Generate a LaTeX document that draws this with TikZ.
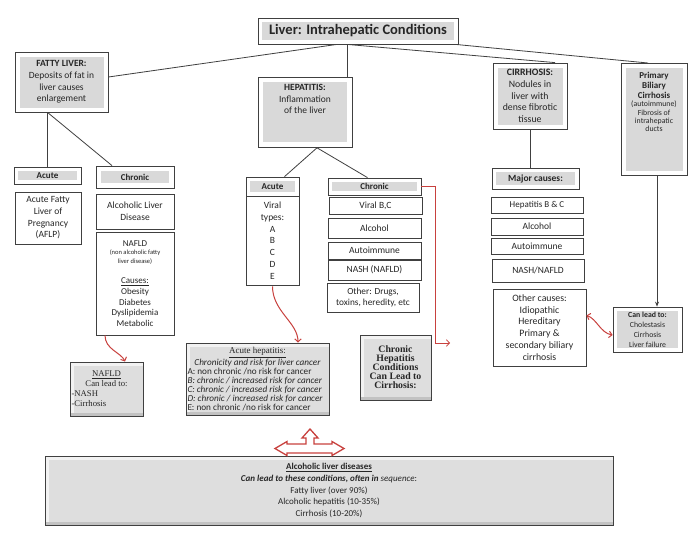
\documentclass[tikz,border=0pt]{standalone}
\usepackage{fontspec}
\setmainfont{Carlito}
\newfontfamily\tnr{Liberation Serif}
\usetikzlibrary{arrows.meta,shadows}
\definecolor{bord}{HTML}{404040}
\definecolor{ing}{HTML}{D9D9D9}
\definecolor{txt}{HTML}{262626}
\definecolor{arred}{HTML}{C8413E}
\definecolor{sfill}{HTML}{DEDEDE}
\newcommand\fsz[2]{\fontsize{#1}{#2}\selectfont}
\tikzset{
  box/.style={draw=bord, line width=0.8pt, fill=white, align=center, inner sep=0pt},
  gbox/.style={box, path picture={\fill[ing] ([shift={(#1,-#1)}]path picture bounding box.north west) rectangle ([shift={(-#1,#1)}]path picture bounding box.south east);}},
  gbox/.default=4pt,
  sbox/.style={draw=bord, line width=1pt, fill=sfill, align=center, inner sep=0pt,
    drop shadow={shadow xshift=1.3pt, shadow yshift=-1.3pt, opacity=0.35},
    path picture={
      \fill[black!5] ([shift={(0.5pt,-0.5pt)}]path picture bounding box.north west) rectangle ([shift={(-0.5pt,-3.5pt)}]path picture bounding box.north east);
      \fill[black!5] ([shift={(0.5pt,-0.5pt)}]path picture bounding box.north west) rectangle ([shift={(3.5pt,0.5pt)}]path picture bounding box.south west);
      \fill[black!24] ([shift={(0.5pt,3.5pt)}]path picture bounding box.south west) rectangle ([shift={(-0.5pt,0.5pt)}]path picture bounding box.south east);
    }},
  link/.style={draw=bord, line width=0.8pt},
  redarrow/.style={draw=arred, line width=1pt, -{Straight Barb[length=3pt,width=6.5pt]}},
  reddouble/.style={draw=arred, line width=1pt, {Straight Barb[length=3pt,width=6.5pt]}-{Straight Barb[length=3pt,width=6.5pt]}},
}
\begin{document}
\begin{tikzpicture}[x=1pt,y=-1pt,font=\fsz{9.5}{11.6},text=txt]
\useasboundingbox[fill=white] (0,0) rectangle (700,541);

% top level
\node[gbox, minimum width=200pt, minimum height=26pt, font=\bfseries\fsz{14.5}{16}] (title) at (358,31) {Liver: Intrahepatic Conditions};
\node[gbox=4.5pt, minimum width=93pt, minimum height=60pt] (fatty) at (61.5,82) {\textbf{FATTY LIVER:}\\Deposits of fat in\\liver causes\\enlargement};
\node[gbox=5pt, inner sep=1pt, anchor=north] (hep) at (305,77) {\parbox[t][68pt][t]{92pt}{\centering\rule{0pt}{12pt}\textbf{HEPATITIS:}\\Inflammation\\of the liver}};
\node[gbox=4.5pt, minimum width=74pt, minimum height=66pt, font=\fsz{9.8}{11.8}] (cirr) at (530,96) {\textbf{CIRRHOSIS:}\\Nodules in\\liver with\\dense fibrotic\\tissue};
\node[gbox=4.5pt, inner sep=1pt, anchor=north] (pbc) at (654,63) {\parbox[t][110pt][t]{64pt}{\centering\fsz{9}{10}\rule{0pt}{14pt}\textbf{Primary}\\\textbf{Biliary}\\\textbf{Cirrhosis}\par\fsz{7.8}{8.3}(autoimmune)\\Fibrosis of\\intrahepatic\\ducts}};

% fatty liver branch
\node[gbox, minimum width=67pt, minimum height=17pt, font=\bfseries\fsz{9}{11}] (facute) at (47.5,175.5) {Acute};
\node[gbox=5pt, minimum width=78pt, minimum height=22pt, font=\bfseries\fsz{9}{11}] (fchron) at (135,177) {Chronic};
\node[box, minimum width=66pt, minimum height=52pt] (aflp) at (48,218) {Acute Fatty\\Liver of\\Pregnancy\\(AFLP)};
\node[box, minimum width=78pt, minimum height=35pt] (ald) at (135,211.5) {Alcoholic Liver\\Disease};
\node[box, minimum width=78pt, minimum height=103pt] (nafld) at (135,283.5) {\parbox{76pt}{\centering\fsz{9}{10.7}NAFLD\par\fsz{6.5}{8.5}(non alcoholic fatty\\liver disease)\par\fsz{9}{10.7}\vspace{10pt}\underline{Causes:}\\Obesity\\Diabetes\\Dyslipidemia\\Metabolic}};

% hepatitis branch
\node[gbox, minimum width=53pt, minimum height=19pt, font=\bfseries\fsz{9}{11}] (hacute) at (272.5,186.5) {Acute};
\node[box, minimum width=53pt, minimum height=89pt, font=\fsz{9.5}{11.8}] (hviral) at (272.5,240.5) {Viral\\types:\\A\\B\\C\\D\\E};
\node[gbox, minimum width=93pt, minimum height=17pt, font=\bfseries\fsz{9}{11}] (hchron) at (374.5,186.5) {Chronic};
\node[box, minimum width=93pt, minimum height=17pt] (hvbc) at (375.5,205.5) {Viral B,C};
\node[box, minimum width=93pt, minimum height=20pt] (halc) at (374.5,228) {Alcohol};
\node[box, minimum width=93pt, minimum height=17pt] (hauto) at (374.5,250.5) {Autoimmune};
\node[box, minimum width=93pt, minimum height=20pt] (hnash) at (374.5,270) {NASH (NAFLD)};
\node[box, minimum width=92pt, minimum height=29pt, font=\fsz{9.3}{11.5}] (hother) at (373,297.5) {Other: Drugs,\\toxins, heredity, etc};

% cirrhosis branch
\node[gbox, minimum width=87pt, minimum height=21pt, font=\bfseries\fsz{9.5}{11}] (major) at (535.5,178.5) {Major causes:};
\node[box, minimum width=92pt, minimum height=16pt, font=\fsz{9}{11}] (chbc) at (537,205) {Hepatitis B \& C};
\node[box, minimum width=92pt, minimum height=17pt] (calc) at (537,226.5) {Alcohol};
\node[box, minimum width=92pt, minimum height=16pt] (cauto) at (537,246) {Autoimmune};
\node[box, minimum width=92pt, minimum height=23pt] (cnash) at (538,270.5) {NASH/NAFLD};
\node[box, minimum width=93pt, minimum height=77pt, font=\fsz{9.8}{11.8}] (cother) at (539.5,327.5) {Other causes:\\Idiopathic\\Hereditary\\Primary \&\\secondary biliary\\cirrhosis};
\node[gbox, minimum width=69pt, minimum height=45pt, font=\fsz{7.8}{10}] (plead) at (647.5,329.5) {\textbf{Can lead to:}\\Cholestasis\\Cirrhosis\\Liver failure};

% shaded boxes
\node[sbox, minimum width=73pt, minimum height=54pt, font=\tnr\fsz{8.7}{10}] (nlead) at (106.5,389) {\parbox{70pt}{\centering\underline{NAFLD}\\Can lead to:\par\raggedright -NASH\\-Cirrhosis}};
\node[sbox, minimum width=143pt, minimum height=72pt, font=\fsz{9.2}{9}] (ahep) at (257.5,379) {\parbox{140pt}{\centering{\tnr\fsz{9}{9}\underline{Acute hepatitis:}}\\\textit{Chronicity and risk for liver cancer}\par\raggedright A: non chronic /no risk for cancer\\\textit{B: chronic / increased risk for cancer}\\\textit{C: chronic / increased risk for cancer}\\\textit{D: chronic / increased risk for cancer}\\E: non chronic /no risk for cancer}};
\node[sbox, minimum width=71pt, minimum height=65pt, font=\tnr\bfseries\fsz{9.8}{9}] (chc) at (395.5,367.5) {Chronic\\Hepatitis\\Conditions\\Can Lead to\\Cirrhosis:};
\node[sbox, minimum width=568pt, minimum height=69pt, font=\fsz{9}{11.7}] (ald2) at (329,490.5) {\textbf{\underline{Alcoholic liver diseases}}\\\textbf{\textit{Can lead to these conditions, often in}} \textit{sequence}:\\Fatty liver (over 90\%)\\Alcoholic hepatitis (10-35\%)\\Cirrhosis (10-20\%)};

% connectors
\draw[link] ([xshift=-21pt]title.south) -- ([yshift=5pt]fatty.east);
\draw[link] ([xshift=-11pt]title.south) -- ([xshift=-11pt]title.south |- hep.north);
\draw[link] ([xshift=-11pt]title.south) -- ([xshift=25pt]cirr.north);
\draw[link] ([xshift=-3pt]title.south east) -- ([xshift=-6pt]pbc.north);
\draw[link] (facute.north |- fatty.south) -- (facute.north);
\draw[link] (facute.north |- fatty.south) -- ([xshift=-23pt]fchron.north);
\draw[link] ([xshift=12pt]hep.south) -- ([xshift=12pt]hacute.north);
\draw[link] ([xshift=12pt]hep.south) -- ([xshift=-7pt]hchron.north);
\draw[link] (cirr.south) -- (cirr.south |- major.north);
\draw[link, -{Stealth[length=5pt,width=4pt]}] ([xshift=3pt]pbc.south) -- ([xshift=3pt]pbc.south |- plead.north);

% red arrows
\draw[redarrow] ([xshift=-30pt]nafld.south) .. controls +(0pt,-14pt) and +(-4pt,9pt) .. ([xshift=18.5pt]nlead.north);
\draw[redarrow] ([yshift=-1pt]hviral.south) .. controls +(0pt,-25pt) and +(0pt,20pt) .. ([xshift=40.5pt]ahep.north);
\coordinate (chend) at (450,343);
\draw[redarrow, line width=0.8pt] (hchron.east) -- ++(14,0) |- (chend);
\draw[reddouble] ([yshift=12pt]cother.east) .. controls +(10pt,-3pt) and +(-12pt,2pt) .. ([yshift=-5.5pt]plead.west);

% hollow three-way arrow
\draw[draw=arred, line width=1.3pt, fill=white, line join=miter]
  (310,429) -- (318,438) -- (314,438) -- (314,444) -- (332,444) -- (332,441.5) -- (344,448.5)
  -- (332,455.5) -- (332,453) -- (287,453) -- (287,455.5) -- (275,448.5) -- (287,441.5)
  -- (287,444) -- (306,444) -- (306,438) -- (302,438) -- cycle;
\end{tikzpicture}
\end{document}
